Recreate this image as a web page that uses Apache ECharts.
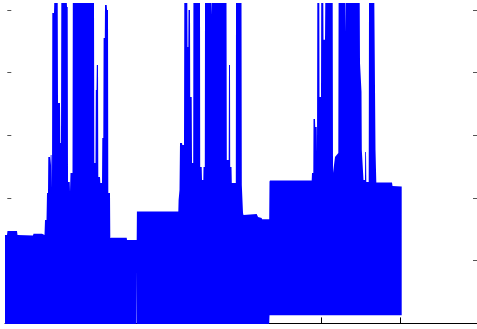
<!DOCTYPE html>
<html>
<head>
<meta charset="utf-8">
<script src="https://cdn.jsdelivr.net/npm/echarts@6/dist/echarts.min.js"></script>
<style>
  html, body { margin: 0; padding: 0; background: #fff; }
  #chart { width: 477px; height: 329px; }
</style>
</head>
<body>
<div id="chart"></div>
<script>
// envelope of the dense signal: time (tick units), top and bottom of the trace
const times = [
  -0.0292, -0.0038, 0.0022, 0.1234, 0.1298, 0.3270, 0.3334, 0.4415, 0.4733, 0.4797,
  0.4988, 0.5051, 0.5178, 0.5217, 0.5433, 0.5471, 0.5522, 0.5624, 0.5687, 0.5726,
  0.5942, 0.5980, 0.6413, 0.6451, 0.6705, 0.6743, 0.6832, 0.6871, 0.7558, 0.7596,
  0.7685, 0.7723, 0.7939, 0.7977, 0.8041, 0.8295, 0.8334, 1.1031, 1.1069, 1.1222,
  1.1260, 1.1349, 1.1387, 1.1540, 1.1578, 1.1794, 1.1832, 1.2049, 1.2087, 1.2214,
  1.2252, 1.2405, 1.2430, 1.2647, 1.2685, 1.2812, 1.2850, 1.3066, 1.3105, 1.3194,
  1.5191, 1.5229, 1.6438, 1.6463, 1.6489,
  // second run
  1.6502, 2.1756, 2.1794, 2.1909, 2.1972, 2.2227, 2.2265, 2.2481, 2.2519, 2.2901,
  2.2927, 2.3028, 2.3054, 2.3245, 2.3270, 2.3461, 2.3499, 2.3652, 2.3677, 2.4517,
  2.4542, 2.4733, 2.4771, 2.4937, 2.4962, 2.5128, 2.5153, 2.5980, 2.6005, 2.6044,
  2.7888, 2.7927, 2.8168, 2.8206, 2.8334, 2.8359, 2.8524, 2.8563, 2.9072, 2.9097,
  2.9797, 2.9835, 2.9988, 3.0051, 3.1731, 3.1896, 3.2367, 3.2405, 3.3321,
  // third run
  3.3359, 3.3423, 3.8728, 3.8766, 3.8932, 3.8957, 3.9148, 3.9173, 3.9364, 3.9402,
  3.9441, 3.9695, 3.9720, 3.9911, 3.9937, 4.0204, 4.0229, 4.0420, 4.0458, 4.1400,
  4.1438, 4.1692, 4.2112, 4.2150, 4.2965, 4.2990, 4.3028, 4.4835, 4.4873, 4.5064,
  4.5102, 4.5318, 4.5509, 4.5535, 4.5636, 4.5675, 4.5980, 4.6018, 4.6692, 4.6845,
  4.6947, 4.8944, 4.9008, 5.0153, 5.0178
];
const upper = [
  1.411, 1.411, 1.475, 1.475, 1.411, 1.404, 1.432, 1.432, 1.411, 1.651,
  1.651, 2.081, 2.081, 2.656, 2.656, 2.528, 2.687, 2.687, 2.161, 4.952,
  4.952, 5.15, 5.15, 3.517, 3.517, 2.879, 2.879, 5.15, 5.15, 5.048,
  5.048, 2.257, 2.257, 2.097, 2.400, 2.400, 5.15, 5.15, 2.560, 2.560,
  3.724, 3.724, 4.123, 4.123, 2.337, 2.337, 2.241, 2.241, 2.959, 2.959,
  4.553, 4.553, 5.080, 5.080, 5.000, 5.000, 2.081, 2.081, 1.364, 1.368,
  1.368, 1.332, 1.332, 1.332, 1.783,
  1.783, 1.783, 1.970, 2.129, 2.879, 2.879, 2.847, 2.847, 5.15, 5.15,
  4.410, 4.410, 5.000, 5.000, 3.612, 3.612, 2.560, 2.560, 5.15, 5.15,
  2.496, 2.496, 2.289, 2.289, 2.496, 2.496, 5.15, 5.15, 4.920, 5.15,
  5.15, 2.608, 2.608, 4.123, 4.123, 2.496, 2.496, 2.241, 2.241, 5.15,
  5.15, 2.209, 1.762, 1.730, 1.746, 1.699, 1.683, 1.662, 1.662,
  2.262, 2.278, 2.278, 2.400, 2.400, 3.262, 3.262, 3.134, 3.134, 2.719,
  5.15, 5.15, 3.612, 3.612, 5.15, 5.15, 4.522, 4.522, 5.15, 5.15,
  2.400, 2.656, 2.719, 5.15, 5.15, 4.649, 5.15, 5.15, 4.155, 3.692,
  2.767, 2.289, 2.289, 2.735, 2.735, 2.257, 2.257, 5.15, 5.15, 2.767,
  2.246, 2.246, 2.193, 2.185, 2.185
];
const lower = [
  -0.01, -0.01, -0.01, -0.01, -0.01, -0.01, -0.01, -0.01, -0.01, -0.01,
  -0.01, -0.01, -0.01, -0.01, -0.01, -0.01, -0.01, -0.01, -0.01, -0.01,
  -0.01, -0.01, -0.01, -0.01, -0.01, -0.01, -0.01, -0.01, -0.01, -0.01,
  -0.01, -0.01, -0.01, -0.01, -0.01, -0.01, -0.01, -0.01, -0.01, -0.01,
  -0.01, -0.01, -0.01, -0.01, -0.01, -0.01, -0.01, -0.01, -0.01, -0.01,
  -0.01, -0.01, -0.01, -0.01, -0.01, -0.01, -0.01, -0.01, -0.01, -0.01,
  -0.01, -0.01, -0.01, 0.853, -0.01,
  -0.01, -0.01, -0.01, -0.01, -0.01, -0.01, -0.01, -0.01, -0.01, -0.01,
  -0.01, -0.01, -0.01, -0.01, -0.01, -0.01, -0.01, -0.01, -0.01, -0.01,
  -0.01, -0.01, -0.01, -0.01, -0.01, -0.01, -0.01, -0.01, -0.01, -0.01,
  -0.01, -0.01, -0.01, -0.01, -0.01, -0.01, -0.01, -0.01, -0.01, -0.01,
  -0.01, -0.01, -0.01, -0.01, -0.01, -0.01, -0.01, -0.01, -0.01,
  0.131, 0.131, 0.131, 0.131, 0.131, 0.131, 0.131, 0.131, 0.131, 0.131,
  0.131, 0.131, 0.131, 0.131, 0.131, 0.131, 0.131, 0.131, 0.131, 0.131,
  0.131, 0.131, 0.131, 0.131, 0.131, 0.131, 0.131, 0.131, 0.131, 0.131,
  0.131, 0.131, 0.131, 0.131, 0.131, 0.131, 0.131, 0.131, 0.131, 0.131,
  0.131, 0.131, 0.131, 0.131, 0.131
];
const xTicks = [0, 1, 2, 3, 4, 5];
const yTicks = [1, 2, 3, 4, 5];

const chart = echarts.init(document.getElementById('chart'), null, { renderer: 'canvas' });

const yAxisBase = {
  type: 'value',
  min: -0.03,
  max: 5.11,
  axisLine: { show: false },
  axisTick: { show: true, inside: true, length: 4, customValues: yTicks, lineStyle: { color: '#555', width: 1 } },
  axisLabel: { show: false },
  splitLine: { show: false },
};

// the whole trace as one filled shape: along the top, then back along the bottom
function renderTrace(params, api) {
  if (params.dataIndex !== 0) return null;
  const top = times.map((t, i) => api.coord([t, upper[i]]));
  const bottom = times.map((t, i) => api.coord([t, lower[i]])).reverse();
  return {
    type: 'polygon',
    shape: { points: top.concat(bottom) },
    style: { fill: '#0000ff', stroke: null },
  };
}

chart.setOption({
  animation: false,
  backgroundColor: '#fff',
  grid: { left: 5, right: 0, top: 3, bottom: 3.7 },
  xAxis: {
    type: 'value',
    min: -0.0293,
    max: 5.9758,
    axisLine: { show: true, onZero: true, lineStyle: { color: '#000', width: 1 } },
    axisTick: { show: true, inside: true, length: 6, customValues: xTicks, lineStyle: { color: '#000', width: 1 } },
    axisLabel: { show: false },
    splitLine: { show: false },
  },
  yAxis: [
    Object.assign({ position: 'left' }, yAxisBase),
    Object.assign({ position: 'right' }, yAxisBase),
  ],
  series: [
    {
      type: 'custom',
      clip: true,
      silent: true,
      renderItem: renderTrace,
      encode: { x: 0, y: [1, 2] },
      data: times.map((t, i) => [t, lower[i], upper[i]]),
    },
  ],
});
</script>
</body>
</html>
